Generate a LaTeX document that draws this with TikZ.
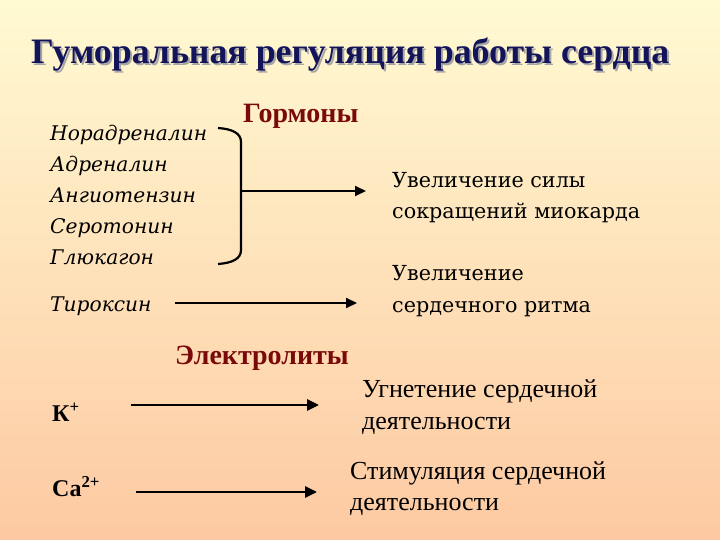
\documentclass[tikz,border=0pt]{standalone}
\usepackage{fontspec}
\setmainfont{Liberation Serif}
\newfontfamily\dvs{DejaVu Serif}
\usetikzlibrary{arrows.meta}
\definecolor{bgtop}{HTML}{FFFAD2}
\definecolor{bgbot}{HTML}{FDC9A2}
\definecolor{titlecol}{HTML}{14145A}
\definecolor{headcol}{HTML}{7A0A0A}
\newcommand{\shadowtext}[1]{\rlap{\hspace{2bp}\raisebox{-2bp}{\textcolor{gray!70}{#1}}}#1}
\tikzset{
  lbl/.style={anchor=base west, inner sep=0pt, text=black},
  hormone/.style={lbl, font=\dvs\itshape\fontsize{20.2bp}{25bp}\selectfont},
  effect/.style={lbl, font=\dvs\fontsize{20.7bp}{25bp}\selectfont},
  eeffect/.style={lbl, font=\fontsize{26bp}{30bp}\selectfont},
  ion/.style={lbl, font=\bfseries\fontsize{24bp}{28bp}\selectfont},
  head/.style={inner sep=0pt, anchor=base west, text=headcol, font=\bfseries\fontsize{28bp}{32bp}\selectfont},
  arr/.style={-{Triangle[length=11bp,width=10bp]}, line width=2bp, black},
  earr/.style={-{Triangle[length=12bp,width=11bp]}, line width=2.8bp, black},
}
\begin{document}
\begin{tikzpicture}[x=1bp,y=-1bp]
\shade[top color=bgtop, bottom color=bgbot] (0,0) rectangle (720,540);
\useasboundingbox (0,0) rectangle (720,540);
% title
\node (title) [inner sep=0pt, anchor=base west, text=titlecol, font=\bfseries\fontsize{35.8bp}{40bp}\selectfont] at (31,64) {\shadowtext{Гуморальная регуляция работы сердца}};
% hormones
\node (horm) [head] at (243,123) {Гормоны};
\node (h1) [hormone] at (50,141) {Норадреналин};
\node (h2) [hormone] at (50,172) {Адреналин};
\node (h3) [hormone] at (50,203) {Ангиотензин};
\node (h4) [hormone] at (50,234) {Серотонин};
\node (h5) [hormone] at (50,265) {Глюкагон};
\node (h6) [hormone] at (50,311) {Тироксин};
\node (e1) [effect] at (392,188) {Увеличение силы};
\node (e2) [effect] at (392,219) {сокращений миокарда};
\node (e3) [effect] at (392,281) {Увеличение};
\node (e4) [effect] at (392,312) {сердечного ритма};
\coordinate (bt) at (218,128);
\coordinate (bb) at (218,264);
\coordinate (bm) at (241,191);
\coordinate (ht) at (366,191);
\draw[line width=2.2bp, black] (bt) .. controls (232,129) and (241,133) .. (241,142) -- (241,250) .. controls (241,259) and (232,263) .. (bb);
\draw[arr] (bm) -- (ht);
\coordinate (ts) at (175,303);
\coordinate (tt) at (357,303);
\draw[arr] (ts) -- (tt);
% electrolytes
\node (el) [head] at (175,364) {Электролиты};
\node (k) [ion] at (52,421) {К\textsuperscript{+}};
\node (ca) [ion] at (52,496) {Са\textsuperscript{2+}};
\node (g1) [eeffect] at (362,397) {Угнетение сердечной};
\node (g2) [eeffect] at (362,429) {деятельности};
\node (s1) [eeffect] at (350,479) {Стимуляция сердечной};
\node (s2) [eeffect] at (350,510) {деятельности};
\coordinate (ks) at (131,405);
\coordinate (kt) at (319,405);
\coordinate (cs) at (136,492);
\coordinate (ct) at (317,492);
\draw[earr] (ks) -- (kt);
\draw[earr] (cs) -- (ct);
\end{tikzpicture}
\end{document}
